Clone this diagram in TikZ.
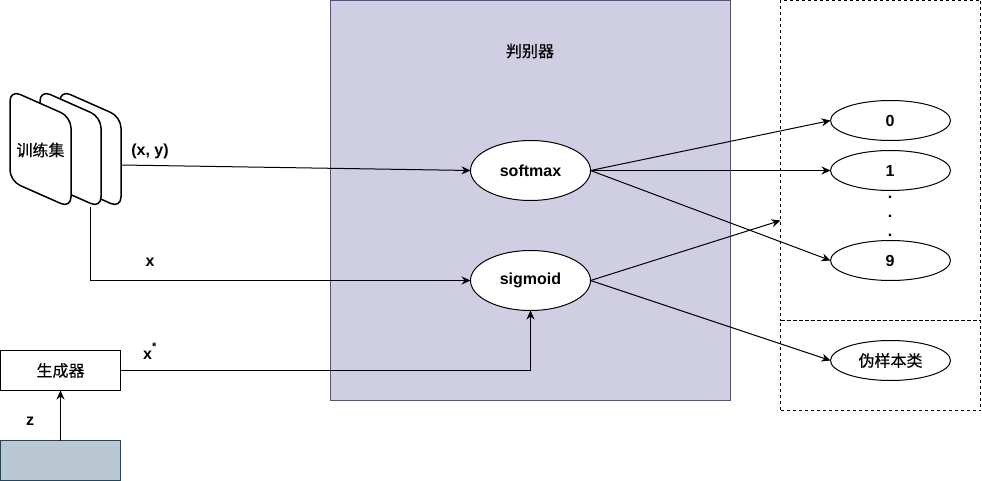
\documentclass[tikz,border=0pt]{standalone}
\usepackage{fontspec}
\setmainfont{Liberation Sans}
\newfontfamily\cjk[FakeBold=0.4]{Noto Sans CJK SC}
\usepackage{xcolor}
\usepackage{tikz}
\usetikzlibrary{shapes,arrows.meta,positioning}
\definecolor{discfill}{HTML}{D0CEE2}
\definecolor{discline}{HTML}{56517E}
\definecolor{noisefill}{HTML}{BAC8D3}
\definecolor{noiseline}{HTML}{23445D}

\begin{document}
\begin{tikzpicture}[x=1pt, y=-1pt, line width=1pt,
    every node/.style={font=\fontsize{16}{19}\selectfont\bfseries, inner sep=0pt, outer sep=0pt}]
    \tikzstyle{cn} = [font=\fontsize{16}{19}\selectfont\cjk]
    \tikzstyle{oval} = [ellipse, draw=black, fill=white, minimum width=120pt]
    \tikzstyle{card} = [draw=black, fill=white, rounded corners=11pt, line width=1.5pt]
    \tikzstyle{arr} = [-{Stealth[length=9pt,width=8pt]}]
    \tikzstyle{group} = [draw=black, dash pattern=on 3pt off 3pt, anchor=north west,
        minimum width=200pt]
    \useasboundingbox (0,0) rectangle (982,481);

    \node (disc) [rectangle, draw=discline, fill=discfill, anchor=north west,
        minimum width=400pt, minimum height=400pt] at (330.5,0.5) {};
    \node (disclabel) [cn] at (530,51) {判别器};
    \node (real) [group, minimum height=320pt] at (780.5,0.5) {};
    \node (fake) [group, minimum height=90pt] at (780.5,320.5) {};

    % stacked cards
    \draw [card] (60,90) -- (121,117) -- (121,208) -- (60,181) -- cycle;
    \draw [card] (40,90) -- (101,117) -- (101,208) -- (40,181) -- cycle;
    \draw [card] (10,90) -- (71,117) -- (71,208) -- (10,181) -- cycle;
    \node (train) [cn] at (40.5,150) {训练集};
    \coordinate (trainxy) at (121,165);
    \coordinate (trainx) at (90.5,207);

    \node (softmax) [oval, minimum height=60pt] at (530.5,170.5) {softmax};
    \node (sigmoid) [oval, minimum height=60pt, below=50pt of softmax] {sigmoid};
    \node (zero) [oval, minimum height=40pt] at (890.5,120.5) {\hspace{-1pt}0};
    \node (one) [oval, minimum height=40pt, below=10pt of zero] {\hspace{-1pt}1};
    \node (nine) [oval, minimum height=40pt] at (890.5,260.5) {\hspace{-1pt}9};
    \node (fakeclass) [oval, minimum height=40pt, cn] at (890.5,360.5) {伪样本类};
    \node (dota) at (890,197) {.};
    \node (dotb) at (890,216) {.};
    \node (dotc) at (890,235) {.};
    \coordinate (realedge) at (780.5,220.5);

    \node (gen) [rectangle, draw=black, fill=white, cn, minimum width=120pt,
        minimum height=40pt] at (60.5,370.5) {生成器};
    \node (noise) [rectangle, draw=noiseline, fill=noisefill, minimum width=120pt,
        minimum height=40pt, below=50pt of gen] {};

    \node (xylabel) at (150,151) {(x, y)};
    \node (xlabel) at (150,262) {x};
    \node (xstarlabel) at (150,351) {x\raisebox{3pt}{\textsuperscript{*}}};
    \node (zlabel) at (30,421) {z};

    \draw [arr] (trainxy) -- (softmax.west);
    \draw [arr] (trainx) |- (sigmoid.west);
    \draw [arr] (gen.east) -| (sigmoid.south);
    \draw [arr] (noise.north) -- (gen.south);
    \draw [arr] (softmax.east) -- (zero.west);
    \draw [arr] (softmax.east) -- (one.west);
    \draw [arr] (softmax.east) -- (nine.west);
    \draw [arr] (sigmoid.east) -- (realedge);
    \draw [arr] (sigmoid.east) -- (fakeclass.west);
\end{tikzpicture}
\end{document}
